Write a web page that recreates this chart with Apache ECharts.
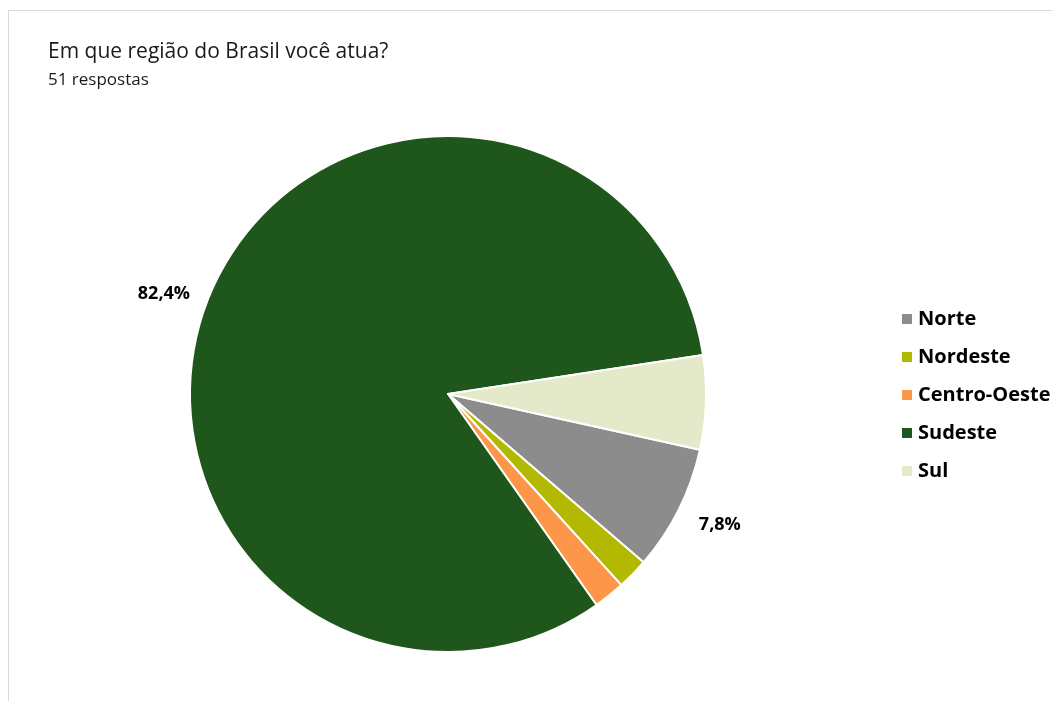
<!DOCTYPE html>
<html>
<head>
<meta charset="utf-8">
<script src="https://cdn.jsdelivr.net/npm/echarts@6/dist/echarts.min.js"></script>
<style>
html,body{margin:0;padding:0;background:#fff;}
#frame{position:absolute;left:8px;top:10px;width:1100px;height:760px;border-left:1px solid #d9d9d9;border-top:1px solid #d9d9d9;}
#chart{position:absolute;left:0;top:0;width:1052px;height:701px;}
</style>
</head>
<body>
<div id="frame"></div>
<div id="chart"></div>
<script>
var categories = ['Norte', 'Nordeste', 'Centro-Oeste', 'Sudeste', 'Sul'];
var counts = [4, 1, 1, 42, 3];
var colors = ['#8c8c8c', '#b3b800', '#fd9649', '#1f561b', '#e4eac9'];
var labelShown = [true, false, false, true, false];

var total = counts.reduce(function (a, b) { return a + b; }, 0);
var FONT = '"Open Sans", Lato, sans-serif';

var data = categories.map(function (c, i) {
  return {
    name: c,
    value: counts[i],
    itemStyle: { color: colors[i] },
    label: { show: labelShown[i] }
  };
});

var chart = echarts.init(document.getElementById('chart'), null, { renderer: 'canvas' });
chart.setOption({
  animation: false,
  backgroundColor: 'transparent',
  title: {
    text: 'Em que região do Brasil você atua?',
    subtext: '51 respostas',
    left: 48,
    top: 42,
    padding: 0,
    itemGap: 9,
    textStyle: { fontFamily: FONT, fontSize: 21, fontWeight: 'normal', color: '#1a1a1a' },
    subtextStyle: { fontFamily: FONT, fontSize: 17, color: '#1a1a1a' }
  },
  legend: {
    orient: 'vertical',
    left: 895,
    top: 304,
    itemWidth: 12,
    itemHeight: 12,
    itemGap: 18,
    icon: 'rect',
    data: categories,
    textStyle: { fontFamily: FONT, fontSize: 20, fontWeight: 'bold', color: '#000' }
  },
  series: [{
    type: 'pie',
    center: [448, 394],
    radius: 258,
    startAngle: -12.5,
    clockwise: true,
    avoidLabelOverlap: false,
    itemStyle: { borderColor: '#fff', borderWidth: 2 },
    label: {
      position: 'outside',
      fontFamily: FONT,
      fontSize: 18,
      fontWeight: 'bold',
      color: '#000',
      formatter: function (p) {
        return (p.value / total * 100).toFixed(1).replace('.', ',') + '%';
      }
    },
    labelLayout: { dy: 8 },
    labelLine: { show: false, length: 17, length2: 0 },
    emphasis: { disabled: true },
    data: data
  }]
});
</script>
</body>
</html>
